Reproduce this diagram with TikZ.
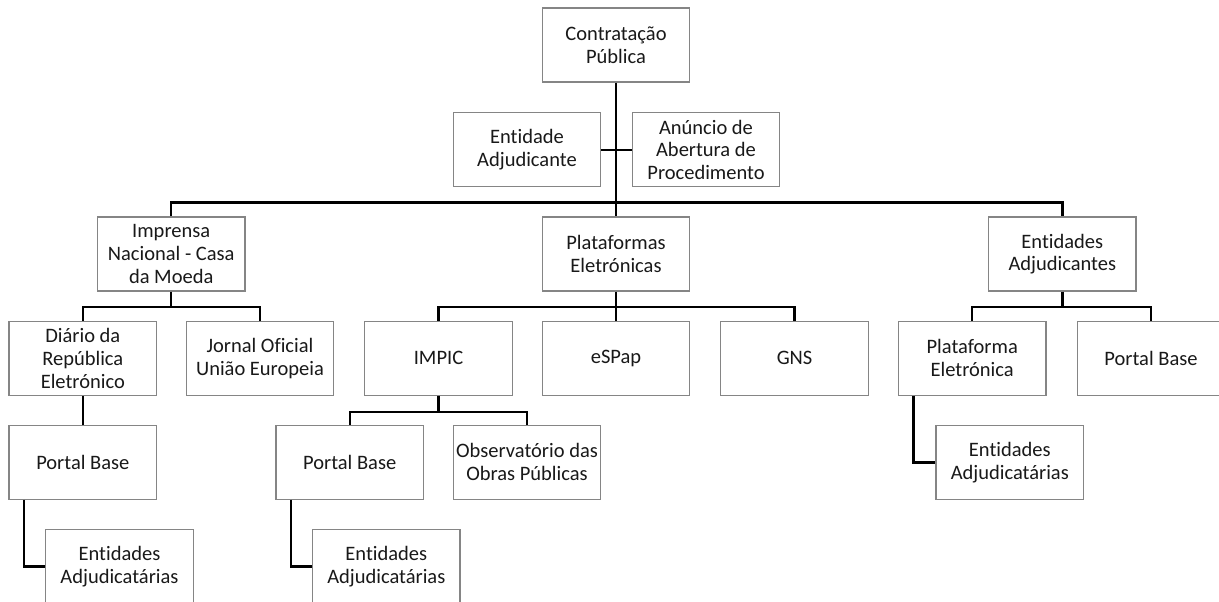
\documentclass[tikz,border=0pt]{standalone}
\usepackage{fontspec}
\setmainfont[Ligatures=NoCommon]{Carlito}
\begin{document}
\begin{tikzpicture}[x=1pt,y=-1pt,
  box/.style={draw=black!48, line width=1.2pt, fill=white, minimum width=147.5pt, minimum height=74pt,
    inner sep=0pt, align=center, text=black!90, font=\fontsize{20.5}{22.7}\selectfont},
  conn/.style={draw=black, line width=2.4pt}]
\useasboundingbox (0,0) rectangle (1219,602);
% nodes
\node[box] (top) at (616,45) {Contratação\\Pública};
\node[box] (ent) at (527,149.7) {Entidade\\Adjudicante};
\node[box] (anu) at (706,149.7) {Anúncio de\\Abertura de\\Procedimento};
\node[box] (imp) at (171.2,254) {Imprensa\\Nacional - Casa\\da Moeda};
\node[box] (pla) at (616,254) {Plataformas\\Eletrónicas};
\node[box] (ead) at (1062.3,254) {Entidades\\Adjudicantes};
\node[box] (dia) at (82.8,358.3) {Diário da\\República\\Eletrónico};
\node[box] (jor) at (260,358.3) {Jornal Oficial\\União Europeia};
\node[box] (impic) at (438.5,358.3) {IMPIC};
\node[box] (esp) at (616,358.3) {eSPap};
\node[box] (gns) at (794.6,358.3) {GNS};
\node[box] (pe) at (972.2,358.3) {Plataforma\\Eletrónica};
\node[box] (pbr) at (1151,358.3) {Portal Base};
\node[box] (pb1) at (82.8,462.3) {Portal Base};
\node[box] (pb2) at (349.7,462.3) {Portal Base};
\node[box] (obs) at (527,462.3) {Observatório das\\Obras Públicas};
\node[box] (ea3) at (1009.8,462.5) {Entidades\\Adjudicatárias};
\node[box] (ea1) at (119.5,566.3) {Entidades\\Adjudicatárias};
\node[box] (ea2) at (386.3,566.3) {Entidades\\Adjudicatárias};
% bus coordinates
\coordinate (b1) at (616,202.3);
\coordinate (b2) at (171.2,306.7);
\coordinate (b3) at (616,306.7);
\coordinate (b4) at (1062.3,306.7);
\coordinate (b5) at (438.5,411.7);
% connectors
\draw[conn] (top.south) -- (pla.north);
\draw[conn] (ent.east) -- (anu.west);
\draw[conn] (imp.north) |- (b1) -| (ead.north);
\draw[conn] (imp.south) -- (b2);
\draw[conn] (dia.north) |- (b2) -| (jor.north);
\draw[conn] (pla.south) -- (esp.north);
\draw[conn] (impic.north) |- (b3) -| (gns.north);
\draw[conn] (ead.south) -- (b4);
\draw[conn] (pe.north) |- (b4) -| (pbr.north);
\draw[conn] (dia.south) -- (pb1.north);
\draw[conn] (impic.south) -- (b5);
\draw[conn] (pb2.north) |- (b5) -| (obs.north);
\draw[conn] ([xshift=15.5pt]pb1.south west) |- (ea1.west);
\draw[conn] ([xshift=15.8pt]pb2.south west) |- (ea2.west);
\draw[conn] ([xshift=15.6pt]pe.south west) |- (ea3.west);
\end{tikzpicture}
\end{document}
